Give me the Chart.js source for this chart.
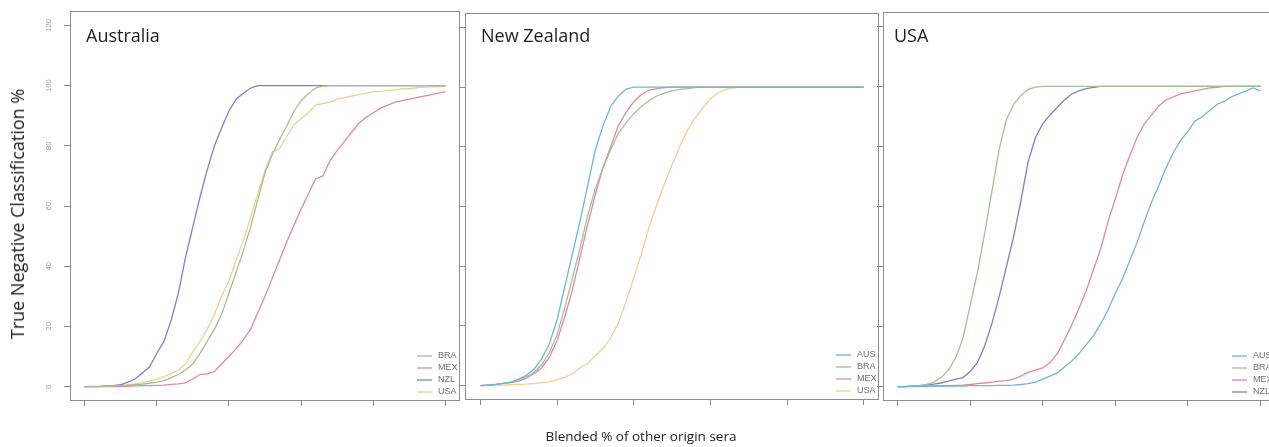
<!DOCTYPE html>
<html>
<head>
<meta charset="utf-8">
<script src="https://cdn.jsdelivr.net/npm/chart.js@4.4.1/dist/chart.umd.min.js"></script>
<style>
  html, body { margin:0; padding:0; background:#fff; width:1269px; height:447px; overflow:hidden; position:relative; }
  canvas { position:absolute; top:0; }
  .ytitle { position:absolute; left:17px; top:214px; transform:translate(-50%,-50%) rotate(-90deg);
            font:18px "Open Sans"; color:#222; white-space:nowrap; }
  .xtitle { position:absolute; left:641px; top:436px; transform:translate(-50%,-50%);
            font:13.5px "Open Sans"; color:#222; white-space:nowrap; }
</style>
</head>
<body>
<canvas id="c1" width="463" height="447" style="left:0px"></canvas>
<canvas id="c2" width="427" height="447" style="left:455px"></canvas>
<canvas id="c3" width="404" height="447" style="left:873px"></canvas>
<div class="ytitle" id="yt"></div>
<div class="xtitle" id="xt"></div>
<script>
// ---------- DATA ----------
const xValues = [0,2,4,6,8,10,12,14,16,18,
                 20,22,24,26,28,30,32,34,36,38,
                 40,42,44,46,48,50,52,54,56,58,
                 60,62,64,66,68,70,72,74,76,78,
                 80,82,84,86,88,90,92,94,96,98,
                 100];
const xTickValues = [0,20,40,60,80,100];
const yTickValues = [0,20,40,60,80,100,120];
const panelTitles = ['Australia','New Zealand','USA'];
const yAxisTitle = 'True Negative Classification %';
const xAxisTitle = 'Blended % of other origin sera';

// Australia panel
const australiaLabels = ['BRA','MEX','NZL','USA'];
const ausBRA = [0,0,0,0.1,0.2,0.3,0.4,0.6,0.8,1.1,
                1.5,2,3,4,5.5,7.5,11,15,19,24,
                31,38,45,53,62,71,77,82,86.5,91.5,
                95,97.3,99.2,99.8,100,100,100,100,100,100,
                100,100,100,100,100,100,100,100,100,100,
                100];
const ausMEX = [0,0,0,0,0,0,0.1,0.2,0.3,0.3,
                0.4,0.5,0.7,0.9,1.2,2.5,4,4.2,5,7.5,
                10,12.5,15.5,19,24.5,30,36,42,48,53.5,
                59,64,69,70,75,78.5,81.5,84.5,87.5,89.5,
                91,92.5,93.5,94.5,95,95.5,96,96.5,97,97.5,
                98];
const ausNZL = [0,0,0,0.2,0.3,0.6,1.5,2.5,4.5,6.5,
                11,15,22,31,43,53,63,72,80,86,
                91.5,95.5,97.5,99.2,100,100,100,100,100,100,
                100,100,100,100,100,100,100,100,100,100,
                100,100,100,100,100,100,100,100,100,100,
                100];
const ausUSA = [0,0.1,0.1,0.2,0.3,0.4,0.6,0.9,1.3,1.8,
                2.5,3.3,4.3,5.5,7.5,11.5,15,19,24,30,
                35,42,48.5,56,64,72,78,79,83,87,
                89,91,93.5,94,94.5,95.5,96,96.5,97,97.5,
                98,98,98.5,98.5,99,99,99.3,99.5,99.6,99.7,
                99.8];

// New Zealand panel
const newZealandLabels = ['AUS','BRA','MEX','USA'];
const nzAUS = [0,0.2,0.4,0.8,1.2,2.2,3.5,5.5,9,14,
               22,33,44,55,67,79,87,93.5,97,99.3,
               100,100,100,100,100,100,100,100,100,100,
               100,100,100,100,100,100,100,100,100,100,
               100,100,100,100,100,100,100,100,100,100,
               100];
const nzBRA = [0,0.2,0.4,0.8,1.2,2,3,4.5,7,11,
               17,26,36,46,57,66,73,79,84.5,88,
               91,93.5,95.5,97,98,98.7,99.2,99.5,99.8,100,
               100,100,100,100,100,100,100,100,100,100,
               100,100,100,100,100,100,100,100,100,100,
               100];
const nzMEX = [0,0.2,0.4,0.8,1,1.5,2.5,4,6,9.5,
               15,23,32,43,54,64,73,80,87,91.5,
               95,97.5,99,99.5,99.8,100,100,100,100,100,
               100,100,100,100,100,100,100,100,100,100,
               100,100,100,100,100,100,100,100,100,100,
               100];
const nzUSA = [0,0,0.1,0.2,0.3,0.4,0.5,0.7,1,1.3,
               2,2.8,4,6,7.5,10,12.5,16,21,28,
               36,44,53,60.5,67.5,74,80,85.5,89.5,93,
               96,98,99.2,99.7,100,100,100,100,100,100,
               100,100,100,100,100,100,100,100,100,100,
               100];

// USA panel
const usaLabels = ['AUS','BRA','MEX','NZL'];
const usAUS = [0,0,0.1,0.1,0.1,0.2,0.2,0.2,0.2,0.2,
               0.3,0.3,0.3,0.3,0.4,0.4,0.5,0.7,1,1.5,
               2.5,3.5,4.5,6.5,8.5,11,14,17,21,25.5,
               31,36,42,48,55,61.5,67,73,78,82,
               85,88.5,90,92,94,95,96.5,97.5,98.5,99.5,
               98.5];
const usBRA = [0,0,0.2,0.3,0.7,1.5,3,5.5,9.5,16,
               27,38,51,65,79,89,94,97,99,99.8,
               100,100,100,100,100,100,100,100,100,100,
               100,100,100,100,100,100,100,100,100,100,
               100,100,100,100,100,100,100,100,100,100,
               100];
const usMEX = [0,0,0.1,0.1,0.2,0.2,0.3,0.3,0.4,0.5,
               0.7,1,1.2,1.5,1.8,2,2.5,3.5,4.8,5.5,
               6.2,8,11,15.5,20.5,26,32,39,46,55,
               62.5,70.5,77,83,87.5,90.5,93.5,95.5,96.5,97.5,
               98,98.5,99,99.5,99.7,100,100,100,100,100,
               100];
const usNZL = [0,0,0.2,0.3,0.5,0.8,1.2,1.8,2.5,3,
               5,8,13.5,21,30,40,50,62,75,83,
               87.5,90.5,93,95.5,97.5,98.5,99.3,99.7,100,100,
               100,100,100,100,100,100,100,100,100,100,
               100,100,100,100,100,100,100,100,100,100,
               100];

// ---------- STYLE ----------
const COLORS = { AUS:'#6fb7d6', BRA:'#a5bf98', MEX:'#de8aa2', NZL:'#7d80c8', USA:'#f2cf91' };
const AXIS_GRAY = '#8c8c8c';

document.getElementById('yt').textContent = yAxisTitle;
document.getElementById('xt').textContent = xAxisTitle;

const panelDecor = {
  id: 'panelDecor',
  afterDatasetsDraw(chart, args, o) {
    const a = chart.chartArea, ctx = chart.ctx;
    ctx.save();
    // frame
    ctx.strokeStyle = AXIS_GRAY; ctx.lineWidth = 1;
    ctx.strokeRect(Math.round(a.left) + 0.5, Math.round(a.top) + 0.5,
                   Math.round(a.right - a.left) - 1, Math.round(a.bottom - a.top) - 1);
    // panel title
    ctx.font = '18px "Open Sans"';
    ctx.fillStyle = '#1e1e1e';
    ctx.textAlign = 'left'; ctx.textBaseline = 'alphabetic';
    ctx.fillText(o.title, a.left + o.titleDx, a.top + o.titleDy);
    // legend (bottom-right, inside)
    const ds = chart.data.datasets, n = ds.length;
    ctx.font = '9px "Liberation Sans", Arial, sans-serif';
    ctx.textBaseline = 'middle';
    ds.forEach((d, i) => {
      const y = a.bottom - 9 - (n - 1 - i) * 12;
      const tx = a.right - 22;
      ctx.strokeStyle = d.borderColor; ctx.lineWidth = 1.3;
      ctx.beginPath(); ctx.moveTo(tx - 21, y); ctx.lineTo(tx - 6, y); ctx.stroke();
      ctx.fillStyle = '#707070';
      ctx.fillText(d.label, tx, y);
    });
    ctx.restore();
  }
};

function makePanel(id, title, labels, seriesList, cfg) {
  const datasets = labels.map((lab, k) => ({
    label: lab,
    data: xValues.map((x, i) => ({ x: x, y: seriesList[k][i] })),
    borderColor: COLORS[lab],
    borderWidth: 1.3,
    pointRadius: 0,
    fill: false,
    tension: 0
  }));
  return new Chart(document.getElementById(id), {
    type: 'line',
    data: { datasets },
    options: {
      responsive: false,
      animation: false,
      events: [],
      layout: { padding: { left: 0, right: cfg.padRight, top: cfg.padTop, bottom: cfg.padBottom } },
      plugins: {
        legend: { display: false },
        tooltip: { enabled: false },
        panelDecor: { title: title, titleDx: cfg.titleDx, titleDy: cfg.titleDy }
      },
      scales: {
        x: {
          type: 'linear', min: -4, max: 104,
          afterBuildTicks: s => { s.ticks = xTickValues.map(v => ({ value: v })); },
          afterFit: s => { s.height = 8; s.paddingLeft = 0; s.paddingRight = 0; },
          ticks: { display: false },
          grid: { drawOnChartArea: false, drawTicks: true, tickLength: 5, color: AXIS_GRAY, lineWidth: 1 },
          border: { display: false }
        },
        y: {
          type: 'linear', min: -4.8, max: 124.8,
          afterBuildTicks: s => { s.ticks = yTickValues.map(v => ({ value: v })); },
          afterFit: s => { s.width = cfg.yWidth; s.paddingTop = 0; s.paddingBottom = 0; },
          ticks: {
            display: cfg.yLabels, autoSkip: false,
            minRotation: 90, maxRotation: 90, crossAlign: 'center', padding: 9,
            color: '#9a9a9a',
            font: { family: '"Liberation Sans", Arial, sans-serif', size: 7.5 }
          },
          grid: { drawOnChartArea: false, drawTicks: true, tickLength: 6, color: AXIS_GRAY, lineWidth: 1 },
          border: { display: false }
        }
      }
    },
    plugins: [panelDecor]
  });
}

const charts = [
  makePanel('c1', panelTitles[0], australiaLabels, [ausBRA, ausMEX, ausNZL, ausUSA],
            { yWidth: 70, yLabels: true, padRight: 3, padTop: 11, padBottom: 38, titleDx: 16, titleDy: 31 }),
  makePanel('c2', panelTitles[1], newZealandLabels, [nzAUS, nzBRA, nzMEX, nzUSA],
            { yWidth: 10, yLabels: false, padRight: 3, padTop: 13, padBottom: 39, titleDx: 16, titleDy: 29 }),
  makePanel('c3', panelTitles[2], usaLabels, [usAUS, usBRA, usMEX, usNZL],
            { yWidth: 10, yLabels: false, padRight: 2, padTop: 12, padBottom: 38, titleDx: 11, titleDy: 30 })
];

if (document.fonts && document.fonts.load) {
  Promise.all([document.fonts.load('18px "Open Sans"'), document.fonts.load('9px "Liberation Sans"')])
    .then(() => charts.forEach(c => c.update()), () => {});
}
</script>
</body>
</html>
